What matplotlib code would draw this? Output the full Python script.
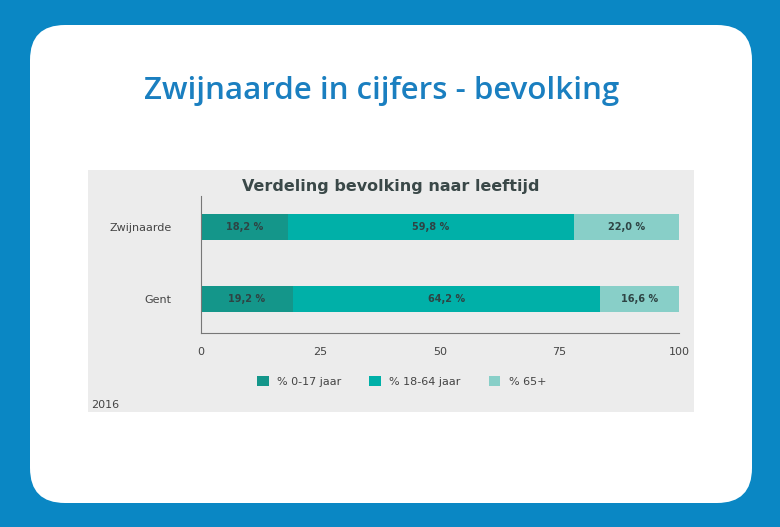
import matplotlib
matplotlib.use("Agg")
import matplotlib.pyplot as plt
from matplotlib.patches import FancyBboxPatch, Rectangle

places = ["Zwijnaarde", "Gent"]
age_0_17 = [18.2, 19.2]
age_18_64 = [59.8, 64.2]
age_65 = [22.0, 16.6]
series_names = ["% 0-17 jaar", "% 18-64 jaar", "% 65+"]
ticks = [0, 25, 50, 75, 100]
colors = ["#14968a", "#00b0a8", "#88cfc8"]

fig = plt.figure(figsize=(7.8, 5.27), dpi=100)
fig.patch.set_facecolor("#0a87c4")
bg = fig.add_axes([0, 0, 1, 1], zorder=0)
bg.set_xlim(0, 780); bg.set_ylim(527, 0); bg.axis("off")
bg.add_patch(FancyBboxPatch((30, 25), 722, 478, boxstyle="round,pad=0,rounding_size=35",
                            fc="white", ec="none"))
bg.add_patch(Rectangle((88, 170), 606, 242, fc="#ececec", ec="none"))
bg.text(382, 91, "Zwijnaarde in cijfers - bevolking", ha="center", va="center",
        fontsize=22.5, color="#1a7fc0", family="Open Sans", fontweight="semibold")
bg.text(391, 186, "Verdeling bevolking naar leeftijd", ha="center", va="center",
        fontsize=11.5, color="#3a4848", fontweight="bold")
bg.text(91, 405, "2016", ha="left", va="center", fontsize=8, color="#444444")

ax = fig.add_axes([201/780, 1-333/527, 478/780, 137/527], zorder=1)
ax.patch.set_alpha(0)
ypos = [1, 0]
left = [0, 0]
series = [age_0_17, age_18_64, age_65]
for vals, c, name in zip(series, colors, series_names):
    ax.barh(ypos, vals, left=left, height=0.36, color=c, label=name)
    for y, l, v in zip(ypos, left, vals):
        ax.text(l + v/2, y, f"{v:.1f} %".replace(".", ","), ha="center", va="center",
                fontsize=7, fontweight="bold", color="#2e4444")
    left = [a + b for a, b in zip(left, vals)]
ax.set_xlim(0, 100)
ax.set_ylim(-0.472, 1.43)
ax.set_yticks(ypos, places)
ax.set_xticks(ticks, [str(t) for t in ticks])
ax.tick_params(length=0, labelsize=8, colors="#444444")
ax.tick_params(axis="x", pad=10)
ax.tick_params(axis="y", pad=21)
for s in ["top", "right"]:
    ax.spines[s].set_visible(False)
for s in ["left", "bottom"]:
    ax.spines[s].set_color("#777777")
leg = ax.legend(loc="upper center", bbox_to_anchor=(0.42, -0.24), ncol=3, frameon=False,
                fontsize=8, handlelength=1.0, handleheight=1.0, columnspacing=2.5)
for t in leg.get_texts():
    t.set_color("#444444")
fig.savefig("out.png", dpi=100, facecolor=fig.get_facecolor())
